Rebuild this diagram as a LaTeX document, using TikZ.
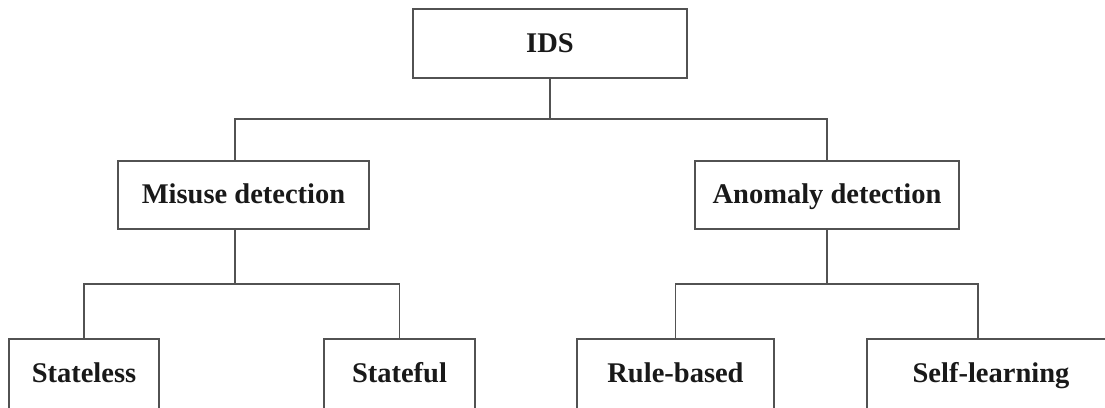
\documentclass[tikz,border=0pt]{standalone}
\usepackage{fontspec}
\setmainfont{Liberation Serif}
\begin{document}
\begin{tikzpicture}[x=1pt,y=-1pt,
  boxline/.style={draw=black!68,line width=1.8pt},
  box/.style={boxline,fill=white,rectangle,inner sep=0pt,
    text height=21pt,text depth=4pt,
    font=\fontsize{28.5}{34}\selectfont\bfseries,text=black!90},
  wire/.style={black!68,line width=1.8pt}]
\useasboundingbox (0,0) rectangle (1105,407);
\clip (0,0) rectangle (1105,407);

% tree nodes (top to bottom)
\node[box,minimum width=274pt,minimum height=69pt] (ids) at (550,43.5) {IDS};
\node[box,minimum width=251pt,minimum height=68pt] (mis) at (243.5,195) {Misuse detection};
\node[box,minimum width=264pt,minimum height=68pt] (ano) at (827,195) {Anomaly detection};
\node[box,minimum width=150pt,minimum height=70pt] (sl) at (84,374) {Stateless};
\node[box,minimum width=151pt,minimum height=70pt] (sf) at (399.5,374) {Stateful};
\node[box,minimum width=197pt,minimum height=70pt] (rb) at (675.5,374) {Rule-based};
\node[box,minimum width=248pt,minimum height=70pt] (se) at (991,374) {Self-learning\hspace{26pt}};

% junction points of the connectors
\coordinate (barL) at (235,119);
\coordinate (barR) at (827,119);
\coordinate (mj) at (235,284);
\coordinate (aj) at (827,284);
\coordinate (sej) at (978,284);

% connectors
\draw[wire] (ids.south) -- (ids.south |- barL);
\draw[wire] (mis.north -| barL) -- (barL) -- (barR) -- (ano.north);
\draw[wire] (mis.south -| mj) -- (mj);
\draw[wire] (sl.north) |- (mj) -| (sf.north);
\draw[wire] (ano.south) -- (aj);
\draw[wire] (rb.north) |- (aj) -- (sej) -- (se.north -| sej);
\end{tikzpicture}
\end{document}
